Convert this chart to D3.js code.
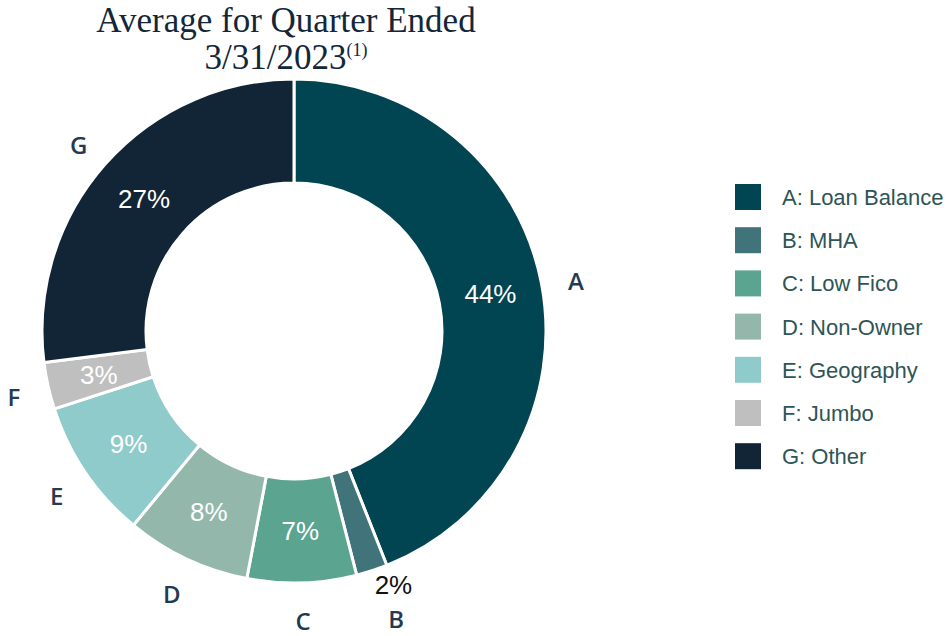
<!DOCTYPE html>
<html>
<head>
<meta charset="utf-8">
<script src="https://cdn.jsdelivr.net/npm/d3@7"></script>
<style>
  body { margin: 0; background: #fff; }
</style>
</head>
<body>
<svg id="chart" width="947" height="636"></svg>
<script>
// slice data
const letters = ["A", "B", "C", "D", "E", "F", "G"];
const names = ["Loan Balance", "MHA", "Low Fico", "Non-Owner", "Geography", "Jumbo", "Other"];
const shares = [44, 2, 7, 8, 9, 3, 27];
const colors = ["#024552", "#41737b", "#5ba48f", "#93b8ab", "#8ecbca", "#bfbfbf", "#112537"];

const data = letters.map((l, i) => ({ letter: l, name: names[i], value: shares[i], color: colors[i] }));

const svg = d3.select("#chart");
const cx = 294, cy = 331, outerR = 252, innerR = 148;

// title
const title = svg.append("text")
    .attr("text-anchor", "middle")
    .attr("font-family", "'Liberation Serif', serif")
    .attr("font-size", 35)
    .attr("fill", "#13263a");
title.append("tspan").attr("x", 286).attr("y", 32).text("Average for Quarter Ended");
const l2 = title.append("tspan").attr("x", 286).attr("y", 69);
l2.append("tspan").text("3/31/2023");
l2.append("tspan").attr("font-size", 18).attr("dy", -13).text("(1)");

const pie = d3.pie().value(d => d.value).sort(null);
const arcs = pie(data);

const arc = d3.arc().innerRadius(innerR).outerRadius(outerR);
const midArc = d3.arc().innerRadius(200).outerRadius(200);

const g = svg.append("g").attr("transform", `translate(${cx},${cy})`);

g.selectAll("path")
    .data(arcs)
    .enter().append("path")
    .attr("d", arc)
    .attr("fill", d => d.data.color)
    .attr("stroke", "#fff")
    .attr("stroke-width", 3);

// percent labels; slices too thin get the label outside
g.selectAll("text.pct")
    .data(arcs)
    .enter().append("text")
    .attr("class", "pct")
    .attr("transform", d => {
        if (d.data.value < 3) {
            const a = (d.startAngle + d.endAngle) / 2 - 0.06;
            return `translate(${Math.sin(a) * 272},${-Math.cos(a) * 272})`;
        }
        return `translate(${midArc.centroid(d)})`;
    })
    .attr("text-anchor", "middle")
    .attr("dy", "0.36em")
    .attr("font-family", "'Liberation Sans', Arial, sans-serif")
    .attr("font-size", 26)
    .attr("fill", d => d.data.value < 3 ? "#111" : "#fff")
    .text(d => d.data.value + "%");

// slice letters outside the ring
g.selectAll("text.letter")
    .data(arcs)
    .enter().append("text")
    .attr("class", "letter")
    .attr("transform", d => {
        const thin = d.data.value < 3;
        const a = (d.startAngle + d.endAngle) / 2 + (thin ? -0.026 : 0);
        const r = thin ? 306 : 287;
        return `translate(${Math.sin(a) * r},${-Math.cos(a) * r + (thin ? 0 : 4)})`;
    })
    .attr("text-anchor", "middle")
    .attr("dy", "0.36em")
    .attr("font-family", "'Open Sans', sans-serif")
    .attr("font-weight", 600)
    .attr("font-size", 24)
    .attr("fill", "#253a50")
    .text(d => d.data.letter);

// legend
const legend = svg.append("g").attr("transform", "translate(735,184)");
const rows = legend.selectAll("g")
    .data(data)
    .enter().append("g")
    .attr("transform", (d, i) => `translate(0,${i * 43.2})`);

rows.append("rect")
    .attr("width", 26)
    .attr("height", 26)
    .attr("fill", d => d.color);

rows.append("text")
    .attr("x", 47)
    .attr("y", 13)
    .attr("dy", "0.36em")
    .attr("font-family", "'Liberation Sans', Arial, sans-serif")
    .attr("font-size", 22)
    .attr("fill", "#2e5556")
    .text(d => `${d.letter}: ${d.name}`);
</script>
</body>
</html>
